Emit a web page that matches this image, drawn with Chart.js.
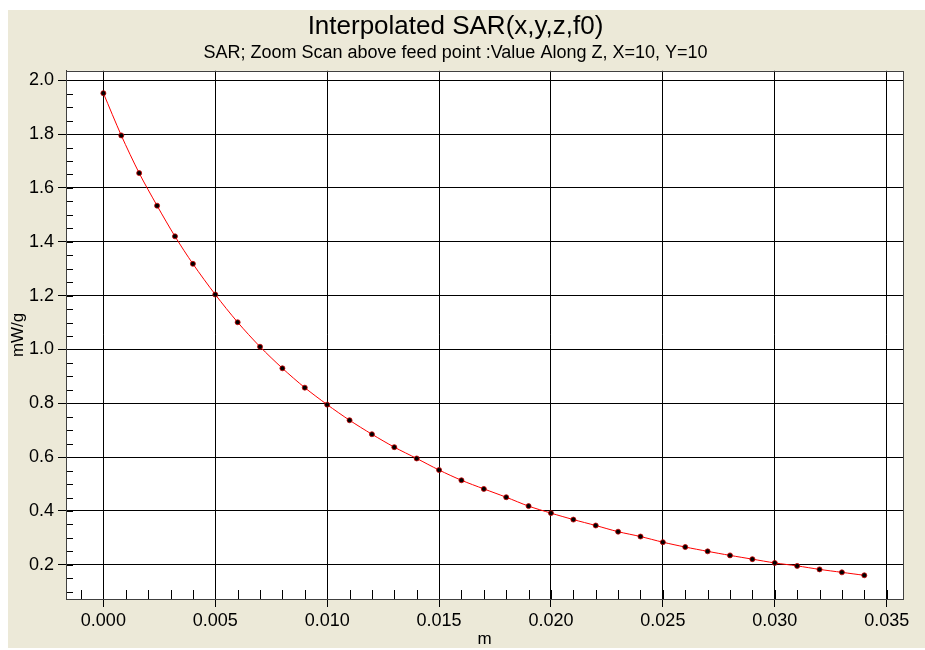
<!DOCTYPE html>
<html>
<head>
<meta charset="utf-8">
<title>Interpolated SAR</title>
<script src="https://cdn.jsdelivr.net/npm/chart.js@4"></script>
<style>
  body { margin: 0; background: #ffffff; }
  canvas { display: block; }
</style>
</head>
<body>
<canvas id="myChart" width="925" height="650"></canvas>
<script>
// distance along Z (m) and SAR value (mW/g)
const zPositions = [
  0, 0.0008, 0.0016, 0.0024, 0.0032, 0.004,
  0.005, 0.006, 0.007, 0.008, 0.009, 0.010,
  0.011, 0.012, 0.013, 0.014, 0.015,
  0.016, 0.017, 0.018, 0.019, 0.020,
  0.021, 0.022, 0.023, 0.024, 0.025,
  0.026, 0.027, 0.028, 0.029, 0.030,
  0.031, 0.032, 0.033, 0.034
];
const sarValues = [
  1.952, 1.795, 1.655, 1.534, 1.420, 1.318,
  1.204, 1.101, 1.010, 0.930, 0.858, 0.795,
  0.737, 0.685, 0.637, 0.595, 0.552,
  0.514, 0.482, 0.451, 0.418, 0.392,
  0.368, 0.346, 0.323, 0.305, 0.284,
  0.266, 0.250, 0.235, 0.221, 0.207,
  0.196, 0.183, 0.172, 0.161
];
const xTicks = [0, 0.005, 0.010, 0.015, 0.020, 0.025, 0.030, 0.035];
const yTicks = [0.2, 0.4, 0.6, 0.8, 1.0, 1.2, 1.4, 1.6, 1.8, 2.0];

const titleText = "Interpolated SAR(x,y,z,f0)";
const subtitleText = "SAR; Zoom Scan above feed point :Value Along Z, X=10, Y=10";

const FONT = "'Liberation Sans', Arial, sans-serif";
const BEIGE = "#ECE9D8";

// window-style background: white edge strip, beige panel
const panelBackground = {
  id: "panelBackground",
  beforeDraw(chart) {
    const ctx = chart.ctx;
    ctx.save();
    ctx.fillStyle = "#ffffff";
    ctx.fillRect(0, 0, chart.width, chart.height);
    ctx.fillStyle = BEIGE;
    ctx.fillRect(8, 10, chart.width - 8, 638);
    const a = chart.chartArea;
    ctx.fillStyle = "#ffffff";
    ctx.fillRect(a.left, a.top, a.right - a.left, a.bottom - a.top);
    ctx.restore();
  }
};

// inner minor ticks + frame around the plot
const minorTicks = {
  id: "minorTicks",
  beforeDatasetsDraw(chart) {
    const ctx = chart.ctx;
    const a = chart.chartArea;
    const xs = chart.scales.x;
    const ys = chart.scales.y;
    ctx.save();
    ctx.strokeStyle = "#000000";
    ctx.lineWidth = 1;
    ctx.beginPath();
    for (let i = -1; i <= 35; i++) {
      const px = Math.round(xs.getPixelForValue(i / 1000)) + 0.5;
      if (px < a.left || px > a.right) continue;
      ctx.moveTo(px, a.bottom);
      ctx.lineTo(px, a.bottom - 9);
    }
    for (let j = 1; j <= 40; j++) {
      const py = Math.round(ys.getPixelForValue(j * 0.05)) + 0.5;
      if (py < a.top || py > a.bottom) continue;
      ctx.moveTo(a.left, py);
      ctx.lineTo(a.left + 7, py);
    }
    ctx.stroke();
    ctx.strokeStyle = "#404040";
    ctx.strokeRect(Math.round(a.left) + 0.5, Math.round(a.top) + 0.5,
      Math.round(a.right - a.left), Math.round(a.bottom - a.top));
    ctx.restore();
  }
};

const points = zPositions.map((z, i) => ({ x: z, y: sarValues[i] }));

new Chart(document.getElementById("myChart"), {
  type: "line",
  data: {
    datasets: [{
      data: points,
      borderColor: "#ff0000",
      borderWidth: 1,
      tension: 0.3,
      pointRadius: 2.5,
      pointBackgroundColor: "#000000",
      pointBorderColor: "#cc0000",
      pointBorderWidth: 0.8,
    }]
  },
  options: {
    responsive: false,
    animation: false,
    devicePixelRatio: 1,
    layout: { padding: { left: 8, top: 10, right: 22, bottom: 0 } },
    plugins: {
      legend: { display: false },
      tooltip: { enabled: false },
      title: {
        display: true,
        text: titleText,
        color: "#000000",
        font: { family: FONT, size: 26, weight: "normal", lineHeight: 1.2 },
        padding: { top: 1, bottom: 0 },
      },
      subtitle: {
        display: true,
        text: subtitleText,
        color: "#000000",
        font: { family: FONT, size: 18, weight: "normal", lineHeight: 1.2 },
        padding: { top: 0, bottom: 7 },
      },
    },
    scales: {
      x: {
        type: "linear",
        min: -0.00167,
        max: 0.03573,
        afterBuildTicks: (scale) => {
          scale.ticks = xTicks.map((v) => ({ value: v }));
        },
        afterFit: (scale) => { scale.height = 51; },
        ticks: {
          color: "#000000",
          padding: 3,
          maxRotation: 0,
          autoSkip: false,
          font: { family: FONT, size: 18 },
          callback: (v) => Number(v).toFixed(3),
        },
        grid: { color: "#000000", lineWidth: 1, tickLength: 8 },
        border: { color: "#404040" },
        title: {
          display: true,
          text: "m",
          color: "#000000",
          padding: 0,
          font: { family: FONT, size: 17, lineHeight: 1.2 },
        },
      },
      y: {
        type: "linear",
        min: 0.073,
        max: 2.035,
        afterBuildTicks: (scale) => {
          scale.ticks = yTicks.map((v) => ({ value: v }));
        },
        afterFit: (scale) => { scale.width = 58; },
        ticks: {
          color: "#000000",
          padding: 4,
          autoSkip: false,
          font: { family: FONT, size: 18 },
          callback: (v) => Number(v).toFixed(1),
        },
        grid: { color: "#000000", lineWidth: 1, tickLength: 8 },
        border: { color: "#404040" },
        title: {
          display: true,
          text: "mW/g",
          color: "#000000",
          padding: 0,
          font: { family: FONT, size: 17, lineHeight: 1.2 },
        },
      },
    },
  },
  plugins: [panelBackground, minorTicks],
});
</script>
</body>
</html>
